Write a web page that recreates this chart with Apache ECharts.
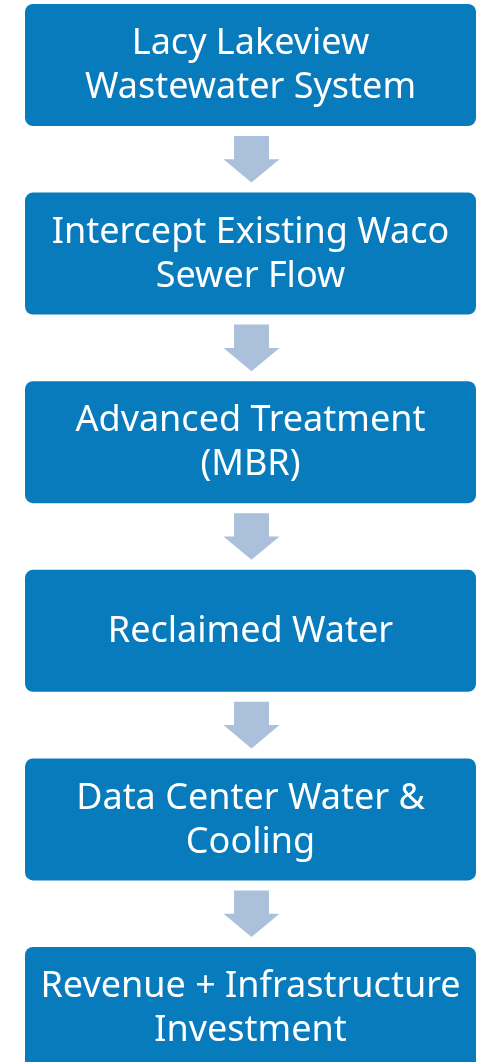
<!DOCTYPE html>
<html>
<head>
<meta charset="utf-8">
<script src="https://cdn.jsdelivr.net/npm/echarts@6/dist/echarts.min.js"></script>
<style>
html,body{margin:0;padding:0;background:#fff;}
#c{width:477px;height:1062px;}
</style>
</head>
<body>
<div id="c"></div>
<script>
var steps = [
  'Lacy Lakeview\nWastewater System',
  'Intercept Existing Waco\nSewer Flow',
  'Advanced Treatment\n(MBR)',
  'Reclaimed Water',
  'Data Center Water &\nCooling',
  'Revenue + Infrastructure\nInvestment'
];
var stepIndex = steps.map(function (s, i) { return i; });
var arrowIndex = stepIndex.slice(0, steps.length - 1);

var BOX_FILL = '#087BBD';
var ARROW_FILL = '#ABC0DB';
var BOX_H = 122;

var chart = echarts.init(document.getElementById('c'), null, {renderer: 'canvas'});
chart.setOption({
  animation: false,
  backgroundColor: '#ffffff',
  grid: {left: 25, right: 1, top: 65, bottom: 54},
  xAxis: {type: 'value', min: 0, max: 1, show: false},
  yAxis: {type: 'category', data: steps, inverse: true, boundaryGap: false, show: false},
  series: [
    {
      type: 'custom',
      data: stepIndex.map(function (i) { return [0, i]; }),
      renderItem: function (params, api) {
        var i = api.value(1);
        var p0 = api.coord([0, i]);
        var p1 = api.coord([1, i]);
        var w = p1[0] - p0[0];
        return {
          type: 'group',
          children: [
            {
              type: 'rect',
              shape: {x: p0[0], y: p0[1] - BOX_H / 2, width: w, height: BOX_H, r: 8},
              style: {fill: BOX_FILL}
            },
            {
              type: 'text',
              x: p0[0] + w / 2,
              y: p0[1] + 1,
              style: {
                text: steps[i],
                fill: '#ffffff',
                font: '36px "Noto Sans"',
                lineHeight: 44,
                align: 'center',
                verticalAlign: 'middle'
              }
            }
          ]
        };
      }
    },
    {
      type: 'custom',
      data: arrowIndex.map(function (i) { return [0, i]; }),
      renderItem: function (params, api) {
        var i = api.value(1);
        var a = api.coord([0.5, i]);
        var b = api.coord([0.5, i + 1]);
        var cx = a[0] + 1;
        var top = a[1] + BOX_H / 2 + 10;
        var tip = b[1] - BOX_H / 2 - 10;
        var mid = (top + tip) / 2;
        var sw = 17.5, hw = 28;
        return {
          type: 'polygon',
          shape: {points: [
            [cx - sw, top], [cx + sw, top], [cx + sw, mid], [cx + hw, mid],
            [cx, tip], [cx - hw, mid], [cx - sw, mid]
          ]},
          style: {fill: ARROW_FILL}
        };
      }
    }
  ]
});
</script>
</body>
</html>
